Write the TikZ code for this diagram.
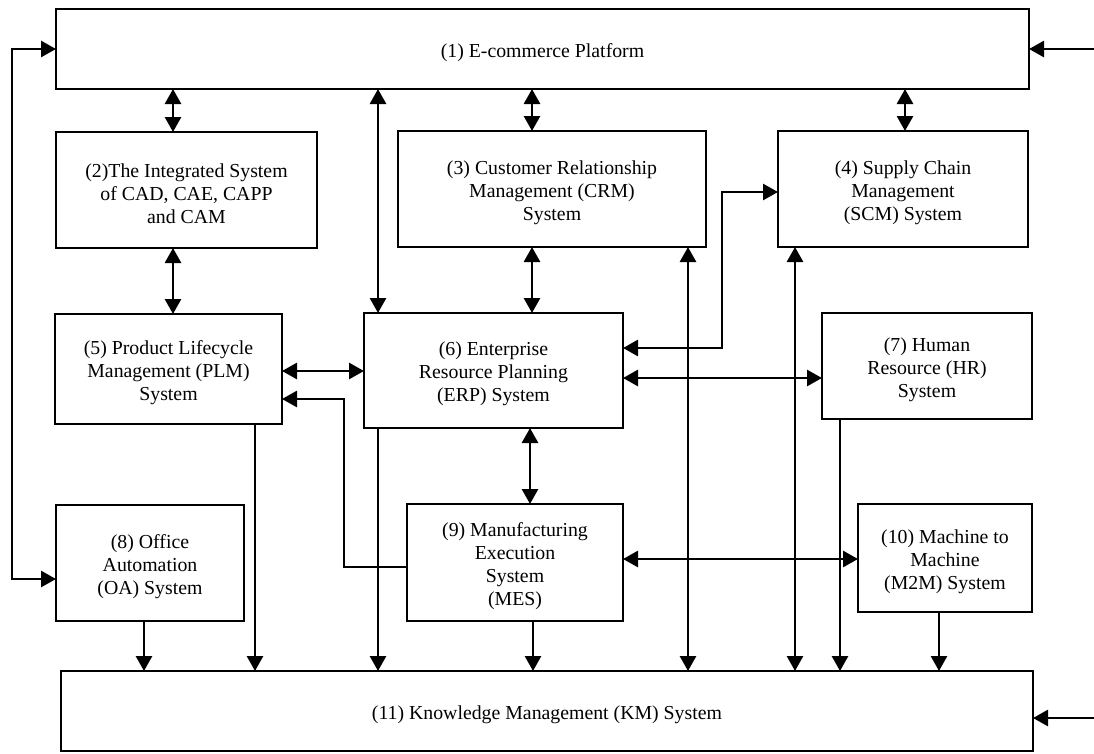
\documentclass[tikz,border=0pt]{standalone}
\usepackage{fontspec}
\setmainfont{Liberation Serif}
\usepackage{tikz}
\usetikzlibrary{arrows.meta}
\newcommand{\toprow}{\rule{0pt}{20.5pt}}

\begin{document}
\begin{tikzpicture}[x=1pt, y=-1pt,
		sysbox/.style={draw, line width=2.2pt, inner sep=0pt, outer sep=0pt, align=center, font=\fontsize{19.8}{23}\selectfont},
		link/.style={line width=2.8pt},
		>={Triangle[length=15pt,width=16pt]}]
		%%%%% START %%%%%
		\useasboundingbox (0, 0) rectangle (1094, 753);
		
		\node[sysbox, minimum width=973pt, minimum height=80pt] (ecom) at (542.5, 49) {\toprow(1) E-commerce Platform};
		
		\node[sysbox, minimum width=261pt, minimum height=116pt] (cax) at (186.5, 190) {\toprow(2)The Integrated System\\of CAD, CAE, CAPP\\and CAM};
		\node[sysbox, minimum width=308pt, minimum height=116pt] (crm) at (552, 189) {\toprow(3) Customer Relationship\\Management (CRM)\\System};
		\node[sysbox, minimum width=250pt, minimum height=116pt] (scm) at (903, 189) {\toprow(4) Supply Chain\\Management\\(SCM) System};
		
		\node[sysbox, minimum width=227pt, minimum height=110pt] (plm) at (168.5, 369) {\toprow(5) Product Lifecycle\\Management (PLM)\\System};
		\node[sysbox, minimum width=259pt, minimum height=115pt] (erp) at (493.5, 370.5) {\toprow(6) Enterprise\\Resource Planning\\(ERP) System};
		\node[sysbox, minimum width=210pt, minimum height=106pt] (hr) at (927, 366) {\toprow(7) Human\\Resource (HR)\\System};
		
		\node[sysbox, minimum width=188pt, minimum height=116pt] (oa) at (150, 563) {\toprow(8) Office\\Automation\\(OA) System};
		\node[sysbox, minimum width=216pt, minimum height=117pt] (mes) at (515, 562.5) {\toprow(9) Manufacturing\\Execution\\System\\(MES)};
		\node[sysbox, minimum width=174pt, minimum height=108pt] (m2m) at (945, 558) {\toprow(10) Machine to\\Machine\\(M2M) System};
		
		\node[sysbox, minimum width=972pt, minimum height=80pt] (km) at (547, 711) {\toprow(11) Knowledge Management (KM) System};
		
		\coordinate (ein) at (1094, 49);
		\coordinate (kin) at (1094, 718);
		
		% platform links
		\draw[link, <->] ([xshift=-13.5pt]cax.north) -- ([xshift=-13.5pt]cax.north |- ecom.south);
		\draw[link, <->] ([xshift=-20pt]crm.north) -- ([xshift=-20pt]crm.north |- ecom.south);
		\draw[link, <->] ([xshift=2pt]scm.north) -- ([xshift=2pt]scm.north |- ecom.south);
		\draw[link, <->] ([xshift=14pt]erp.north west) -- ([xshift=14pt]erp.north west |- ecom.south);
		\draw[link, <->] (ecom.west) -- ++(-44, 0) |- ([yshift=-16pt]oa.west);
		\draw[link, ->] (ein) -- (ecom.east);
		
		% middle links
		\draw[link, <->] ([xshift=-13.5pt]cax.south) -- ([xshift=-13.5pt]cax.south |- plm.north);
		\draw[link, <->] ([xshift=-20pt]crm.south) -- ([xshift=-20pt]crm.south |- erp.north);
		\draw[link, <->] ([yshift=-2pt]plm.east) -- ([yshift=-2pt]plm.east -| erp.west);
		\draw[link, <->] ([yshift=22.5pt]erp.east) -- ++(99, 0) |- ([yshift=-3pt]scm.west);
		\draw[link, <->] ([yshift=-7.5pt]erp.east) -- ([yshift=-7.5pt]erp.east -| hr.west);
		\draw[link, <->] ([xshift=36.5pt]erp.south) -- ([xshift=36.5pt]erp.south |- mes.north);
		\draw[link, ->] ([yshift=-4.5pt]mes.west) -- ++(-63, 0) |- ([yshift=-30pt]plm.east);
		\draw[link, <->] ([yshift=3.5pt]mes.east) -- ([yshift=3.5pt]mes.east -| m2m.west);
		
		% knowledge links
		\draw[link, <->] ([xshift=-18pt]crm.south east) -- ([xshift=-18pt]crm.south east |- km.north);
		\draw[link, <->] ([xshift=17pt]scm.south west) -- ([xshift=17pt]scm.south west |- km.north);
		\draw[link, ->] ([xshift=-6pt]oa.south) -- ([xshift=-6pt]oa.south |- km.north);
		\draw[link, ->] ([xshift=-27pt]plm.south east) -- ([xshift=-27pt]plm.south east |- km.north);
		\draw[link, ->] ([xshift=14pt]erp.south west) -- ([xshift=14pt]erp.south west |- km.north);
		\draw[link, ->] ([xshift=18pt]mes.south) -- ([xshift=18pt]mes.south |- km.north);
		\draw[link, ->] ([xshift=18pt]hr.south west) -- ([xshift=18pt]hr.south west |- km.north);
		\draw[link, ->] ([xshift=-6pt]m2m.south) -- ([xshift=-6pt]m2m.south |- km.north);
		\draw[link, ->] (kin) -- (kin -| km.east);
		%%%%% END %%%%%
	\end{tikzpicture}
\end{document}
